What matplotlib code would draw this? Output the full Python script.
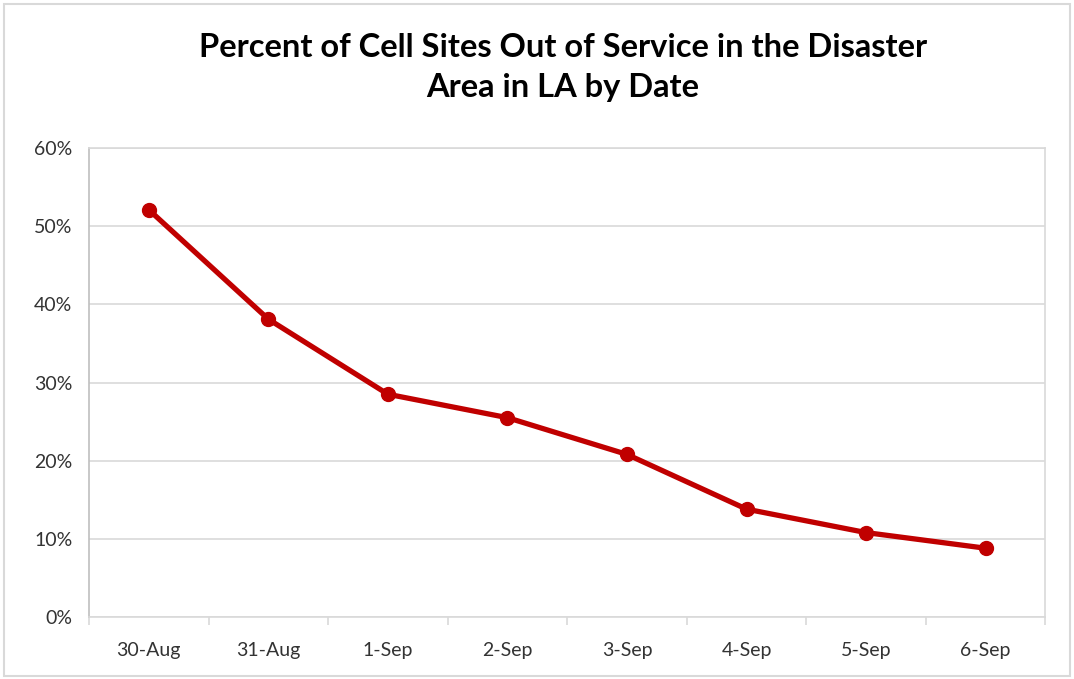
import matplotlib
matplotlib.use('Agg')
import matplotlib.pyplot as plt
from matplotlib.patches import Rectangle
from matplotlib.ticker import PercentFormatter

dates = ['30-Aug', '31-Aug', '1-Sep', '2-Sep', '3-Sep', '4-Sep', '5-Sep', '6-Sep']
pct_out = [52.1, 38.1, 28.5, 25.5, 20.8, 13.8, 10.8, 8.8]
yticks = [0, 10, 20, 30, 40, 50, 60]

plt.rcParams['font.family'] = ['Lato', 'DejaVu Sans']

fig = plt.figure(figsize=(10.74, 6.79), dpi=100)
ax = fig.add_axes([0.0829, 0.0913, 0.8905, 0.6907])

x = list(range(len(dates)))
ax.plot(x, pct_out, color='#C00000', lw=3.8, marker='o', ms=10,
        solid_capstyle='round', zorder=3)

ax.set_xlim(-0.5, len(dates) - 0.5)
ax.set_ylim(0, 60)
ax.set_yticks(yticks)
ax.yaxis.set_major_formatter(PercentFormatter(decimals=0))
ax.set_xticks(x)
ax.set_xticklabels(dates)
ax.set_xticks([i + 0.5 for i in range(-1, len(dates))], minor=True)
ax.grid(axis='y', color='#d9d9d9', lw=1.2)
ax.set_axisbelow(True)

for side in ['top', 'right', 'left', 'bottom']:
    ax.spines[side].set_color('#d9d9d9')
    ax.spines[side].set_linewidth(1.2)
ax.spines['left'].set_color('#bfbfbf')

ax.tick_params(axis='y', length=0, labelsize=14, colors='#333333', pad=12)
ax.tick_params(axis='x', which='major', length=0, labelsize=14, colors='#333333', pad=18)
ax.tick_params(axis='x', which='minor', length=6, color='#d9d9d9', width=1.2)

fig.text(0.524, 0.901, 'Percent of Cell Sites Out of Service in the Disaster\nArea in LA by Date',
         ha='center', va='center', fontsize=23.5, fontweight='bold', linespacing=1.45)

fig.patches.append(Rectangle((0.004, 0.004), 0.992, 0.99, transform=fig.transFigure,
                             fill=False, edgecolor='#d9d9d9', lw=1.5))

fig.savefig('out.png', dpi=100)
